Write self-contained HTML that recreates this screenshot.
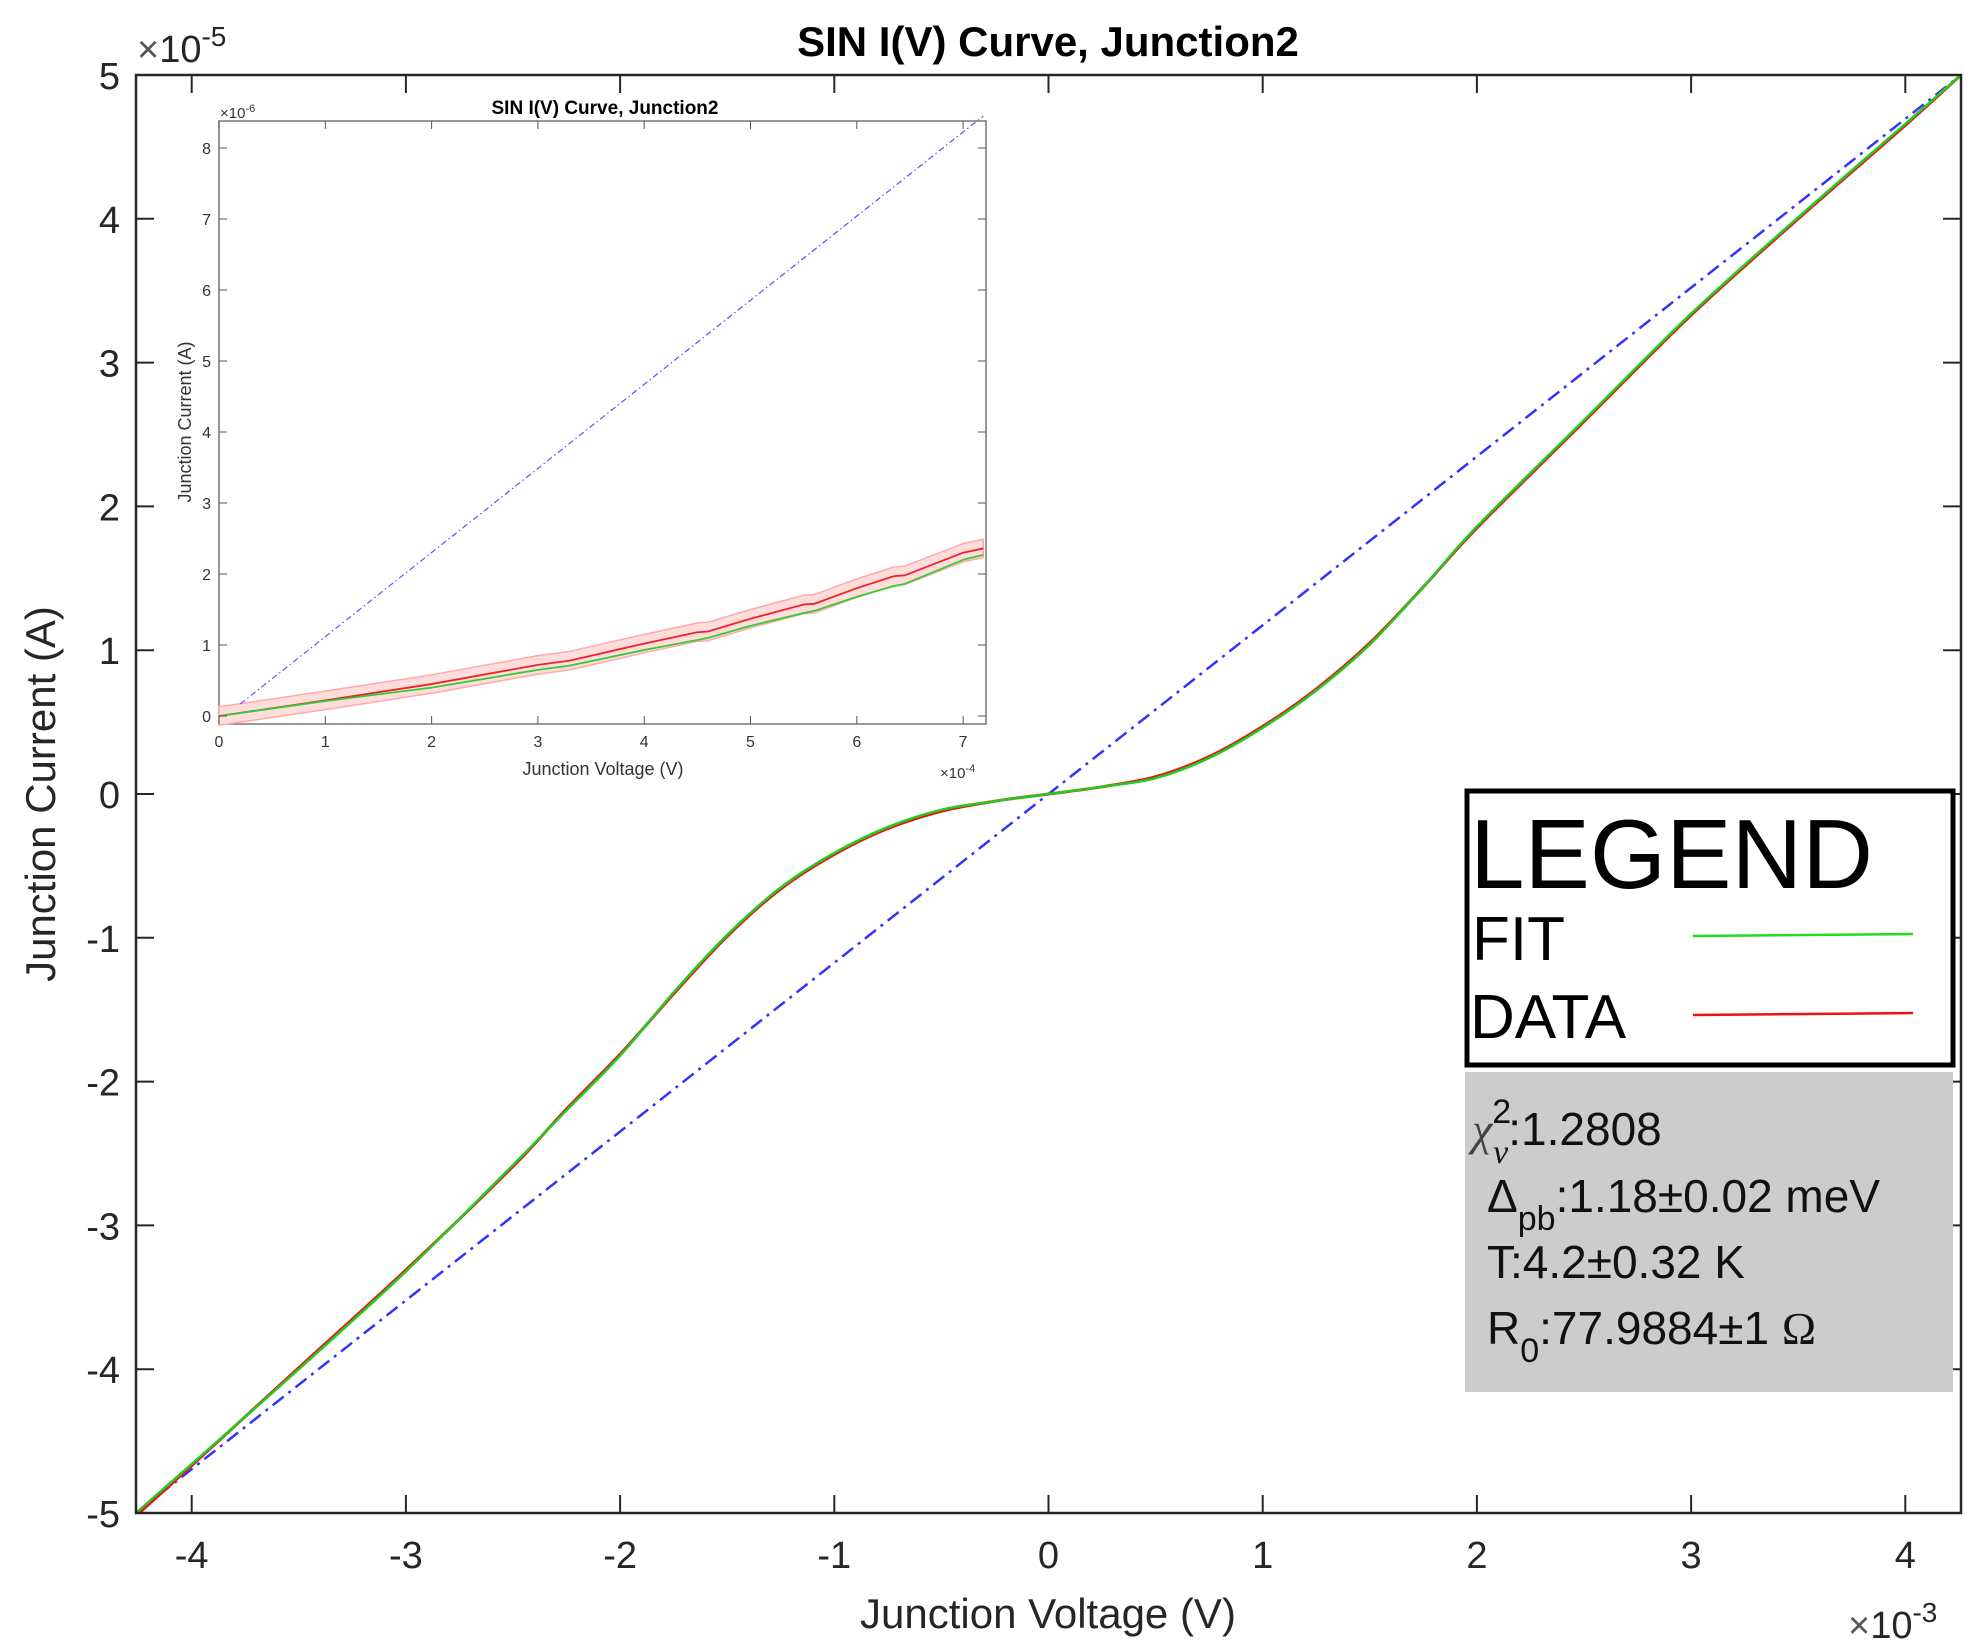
<!DOCTYPE html>
<html><head><meta charset="utf-8"><style>
html,body{margin:0;padding:0;background:#fff;}
svg{display:block;font-family:"Liberation Sans",sans-serif;}
</style></head><body>
<svg id="chart" width="1974" height="1650" viewBox="0 0 1974 1650">
<g id="main"></g>
<g id="inset"></g>
<g id="legend"></g>
</svg>
<script>
// ---- main chart data (V in 1e-3 V, I in 1e-5 A)
const mainV = [-4.26,-4,-3.5,-3,-2.5,-2.25,-2,-1.75,-1.5,-1.25,-1,-0.75,-0.5,-0.25,0,0.25,0.5,0.75,1,1.25,1.5,1.75,2,2.5,3,3.5,4,4.26];
const fitI  = [-5.0,-4.66,-4.0,-3.32,-2.58,-2.2,-1.82,-1.38,-0.98,-0.65,-0.41,-0.23,-0.11,-0.05,0,0.05,0.11,0.25,0.46,0.72,1.04,1.44,1.86,2.6,3.34,4.01,4.66,5.0];
const dataI = [-5.02,-4.67,-3.99,-3.31,-2.59,-2.19,-1.81,-1.39,-0.99,-0.66,-0.42,-0.24,-0.12,-0.05,0,0.05,0.12,0.26,0.47,0.73,1.05,1.44,1.85,2.59,3.33,4.0,4.65,5.0];
const ohmicV = [-4.26,4.26];
const ohmicI = [-5.0,5.0];
const xTicks = [-4,-3,-2,-1,0,1,2,3,4];
const yTicks = [-5,-4,-3,-2,-1,0,1,2,3,4,5];
// ---- inset data (V in 1e-4 V, I in 1e-6 A)
const insV = [0,1,2,3,3.3,4,4.5,4.6,5,5.5,5.6,6,6.35,6.45,7,7.19];
const insData = [0.0,0.22,0.45,0.72,0.78,1.02,1.18,1.19,1.37,1.57,1.58,1.8,1.97,1.98,2.3,2.36];
const insFit  = [0.0,0.21,0.40,0.65,0.71,0.93,1.07,1.1,1.27,1.45,1.48,1.68,1.83,1.86,2.2,2.27];
const insErr = 0.13;
const insOhmV = [0.2,7.19];
const insOhmI = [0.17,8.45];
const insXTicks = [0,1,2,3,4,5,6,7];
const insYTicks = [0,1,2,3,4,5,6,7,8];

const NS="http://www.w3.org/2000/svg";
function mk(parent,tag,attrs,text){const e=document.createElementNS(NS,tag);for(const k in attrs)e.setAttribute(k,attrs[k]);if(text!==undefined)e.textContent=text;parent.appendChild(e);return e;}
function smoothPath(pts){let d="M"+pts[0][0]+","+pts[0][1];for(let i=0;i<pts.length-1;i++){const p0=pts[i-1]||pts[i],p1=pts[i],p2=pts[i+1],p3=pts[i+2]||p2;const c1=[p1[0]+(p2[0]-p0[0])/6,p1[1]+(p2[1]-p0[1])/6],c2=[p2[0]-(p3[0]-p1[0])/6,p2[1]-(p3[1]-p1[1])/6];d+=" C"+c1+" "+c2+" "+p2;}return d;}

// main axes
const L=136,R=1961,T=75,B=1513;
const xS=v=>L+(v+4.26)/8.52*(R-L);
const yS=v=>B-(v+5)/10*(B-T);
const g=document.getElementById('main');
let e;
e=mk(g,'defs',{});const cp=mk(e,'clipPath',{id:'mclip'});mk(cp,'rect',{x:L,y:T,width:R-L,height:B-T});
e=mk(g,'text',{x:1048,y:56,'text-anchor':'middle','font-size':42,'font-weight':'bold',fill:'#000'},'SIN I(V) Curve, Junction2');

e=mk(g,'path',{d:'M'+xS(ohmicV[0])+','+yS(ohmicI[0])+' L'+xS(ohmicV[1])+','+yS(ohmicI[1]),stroke:'#3333ff','stroke-width':2.5,'stroke-dasharray':'14 6 3 6',fill:'none','clip-path':'url(#mclip)'});

e=mk(g,'path',{d:smoothPath(mainV.map((v,i)=>[xS(v),yS(dataI[i])])),stroke:'#ee1111','stroke-width':3,fill:'none','clip-path':'url(#mclip)'});

e=mk(g,'path',{d:smoothPath(mainV.map((v,i)=>[xS(v),yS(fitI[i])])),stroke:'#22cc22','stroke-width':2.5,fill:'none','clip-path':'url(#mclip)'});

e=mk(g,'rect',{x:L,y:T,width:R-L,height:B-T,fill:'none',stroke:'#262626','stroke-width':2.5});

xTicks.forEach(t=>{const x=xS(t);mk(g,'line',{x1:x,x2:x,y1:B,y2:B-18,stroke:'#262626','stroke-width':2});mk(g,'line',{x1:x,x2:x,y1:T,y2:T+18,stroke:'#262626','stroke-width':2});
 e=mk(g,'text',{x:x,y:B+55,'text-anchor':'middle','font-size':38,fill:'#262626'},String(t));
 });
yTicks.forEach(t=>{const y=yS(t);mk(g,'line',{x1:L,x2:L+18,y1:y,y2:y,stroke:'#262626','stroke-width':2});mk(g,'line',{x1:R,x2:R-18,y1:y,y2:y,stroke:'#262626','stroke-width':2});
 e=mk(g,'text',{x:120,y:y+14,'text-anchor':'end','font-size':38,fill:'#262626'},String(t));
 });
e=mk(g,'text',{x:1048,y:1628,'text-anchor':'middle','font-size':42,fill:'#262626'},'Junction Voltage (V)');

e=mk(g,'text',{x:0,y:0,'text-anchor':'middle','font-size':42,fill:'#262626',transform:'translate(55,794) rotate(-90)'},'Junction Current (A)');

e=mk(g,'text',{x:137,y:62,'font-size':38,fill:'#262626'});e.innerHTML='<tspan fill="#555">×</tspan>10<tspan dy="-16" font-size="28">-5</tspan>';

e=mk(g,'text',{x:1848,y:1638,'font-size':38,fill:'#262626'});e.innerHTML='<tspan fill="#555">×</tspan>10<tspan dy="-16" font-size="28">-3</tspan>';


// inset
const iL=219,iR=986,iT=121,iB=724;
const ixS=v=>iL+v*106.3;
const iyS=v=>716-v*71;
const h=document.getElementById('inset');
e=mk(h,'rect',{x:iL,y:iT,width:iR-iL,height:iB-iT,fill:'#fff',stroke:'#777','stroke-width':1.5});

e=mk(h,'text',{x:605,y:114,'text-anchor':'middle','font-size':19,'font-weight':'bold',fill:'#000'},'SIN I(V) Curve, Junction2');

const up=insV.map((v,i)=>[ixS(v),iyS(insData[i]+insErr)]),dn=insV.map((v,i)=>[ixS(v),iyS(insData[i]-insErr)]).reverse();
e=mk(h,'path',{d:'M'+up.concat(dn).map(p=>p.join(',')).join(' L')+'Z',fill:'#ffdddd',stroke:'#ffaaaa','stroke-width':1.5});

e=mk(h,'path',{d:'M'+ixS(insOhmV[0])+','+iyS(insOhmI[0])+' L'+ixS(insOhmV[1])+','+iyS(insOhmI[1]),stroke:'#5555ff','stroke-width':1.2,'stroke-dasharray':'6 3 1.5 3',fill:'none'});

e=mk(h,'polyline',{points:insV.map((v,i)=>ixS(v)+','+iyS(insData[i])).join(' '),stroke:'#ee2222','stroke-width':1.8,fill:'none'});

e=mk(h,'polyline',{points:insV.map((v,i)=>ixS(v)+','+iyS(insFit[i])).join(' '),stroke:'#33cc33','stroke-width':1.8,fill:'none'});

insXTicks.forEach(t=>{const x=ixS(t);mk(h,'line',{x1:x,x2:x,y1:iB,y2:iB-8,stroke:'#555'});mk(h,'line',{x1:x,x2:x,y1:iT,y2:iT+8,stroke:'#555'});
 e=mk(h,'text',{x:x,y:iB+23,'text-anchor':'middle','font-size':16,fill:'#333'},String(t));
 });
insYTicks.forEach(t=>{const y=iyS(t);mk(h,'line',{x1:iL,x2:iL+8,y1:y,y2:y,stroke:'#555'});mk(h,'line',{x1:iR,x2:iR-8,y1:y,y2:y,stroke:'#555'});
 e=mk(h,'text',{x:iL-8,y:y+6,'text-anchor':'end','font-size':16,fill:'#333'},String(t));
 });
e=mk(h,'text',{x:603,y:775,'text-anchor':'middle','font-size':18,fill:'#333'},'Junction Voltage (V)');

e=mk(h,'text',{x:0,y:0,'text-anchor':'middle','font-size':18,fill:'#333',transform:'translate(191,422) rotate(-90)'},'Junction Current (A)');

e=mk(h,'text',{x:220,y:118,'font-size':15,fill:'#333'});e.innerHTML='×10<tspan dy="-6" font-size="11">-6</tspan>';

e=mk(h,'text',{x:940,y:778,'font-size':15,fill:'#333'});e.innerHTML='×10<tspan dy="-6" font-size="11">-4</tspan>';


// legend
const lg=document.getElementById('legend');
e=mk(lg,'rect',{x:1467,y:791,width:486,height:274,fill:'#fff',stroke:'#000','stroke-width':5});

e=mk(lg,'text',{x:1470,y:888,'font-size':98,fill:'#000'},'LEGEND');

e=mk(lg,'text',{x:1472,y:960,'font-size':62,fill:'#000'},'FIT');

e=mk(lg,'line',{x1:1693,x2:1913,y1:936,y2:934,stroke:'#22dd22','stroke-width':2.5});

e=mk(lg,'text',{x:1470,y:1038,'font-size':62,fill:'#000'},'DATA');

e=mk(lg,'line',{x1:1693,x2:1913,y1:1015,y2:1013,stroke:'#ee1111','stroke-width':2.5});

e=mk(lg,'rect',{x:1465,y:1072,width:488,height:320,fill:'#cccccc'});

e=mk(lg,'text',{x:1472,y:1145,'font-size':46,fill:'#111'});e.innerHTML='<tspan font-family="Liberation Serif" font-style="italic" fill="#444">χ</tspan><tspan dy="-22" font-size="34">2</tspan><tspan dx="-18" dy="40" font-size="34" font-family="Liberation Serif" font-style="italic">ν</tspan><tspan dy="-18">:1.2808</tspan>';

e=mk(lg,'text',{x:1487,y:1212,'font-size':46,fill:'#111'});e.innerHTML='Δ<tspan dy="18" font-size="34">pb</tspan><tspan dy="-18">:1.18±0.02 meV</tspan>';

e=mk(lg,'text',{x:1487,y:1278,'font-size':46,fill:'#111'},'T:4.2±0.32 K');

e=mk(lg,'text',{x:1487,y:1344,'font-size':46,fill:'#111'});e.innerHTML='R<tspan dy="18" font-size="34">0</tspan><tspan dy="-18">:77.9884±1 </tspan><tspan font-family="Liberation Serif">Ω</tspan>';

</script>
</body></html>
